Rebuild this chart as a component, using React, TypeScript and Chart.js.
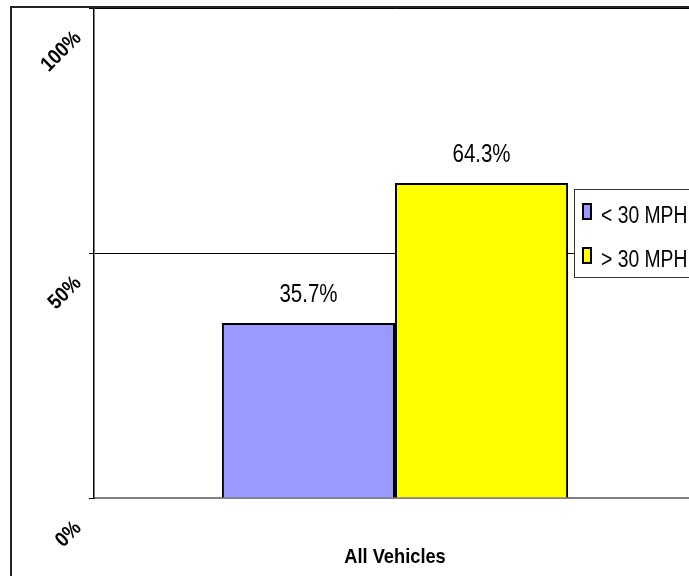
import React, { useEffect, useRef } from "react";
import { Chart, registerables } from "chart.js";

Chart.register(...registerables);

// Data
const categories = ["All Vehicles"];
const seriesNames = ["< 30 MPH", "> 30 MPH"];
const under30Share = [35.7];
const over30Share = [64.3];
const seriesColors = ["#9999FF", "#FFFF00"];
const yTickValues = [0, 50, 100];

const CANVAS_W = 710;
const CANVAS_H = 576;
const FONT = "'Liberation Sans', Arial, sans-serif";

// Draws text squeezed horizontally, like the narrow rendering of the original sheet
function squeezedText(
  ctx: CanvasRenderingContext2D,
  text: string,
  x: number,
  y: number,
  font: string,
  sx: number,
  align: CanvasTextAlign,
  baseline: CanvasTextBaseline,
  angle = 0
) {
  ctx.save();
  ctx.translate(x, y);
  if (angle) ctx.rotate(angle);
  ctx.scale(sx, 1);
  ctx.font = font;
  ctx.fillStyle = "#000";
  ctx.textAlign = align;
  ctx.textBaseline = baseline;
  ctx.fillText(text, 0, 0);
  ctx.restore();
}

const decorations = {
  id: "decorations",
  beforeDraw(chart: any) {
    const ctx = chart.ctx as CanvasRenderingContext2D;
    ctx.save();
    ctx.fillStyle = "#fff";
    ctx.fillRect(0, 0, chart.width, chart.height);
    ctx.restore();
  },
  afterDraw(chart: any) {
    const ctx = chart.ctx as CanvasRenderingContext2D;
    const yScale = chart.scales.y;
    const xScale = chart.scales.x;

    // outer frame of the chart
    ctx.save();
    ctx.strokeStyle = "#222";
    ctx.lineWidth = 2;
    ctx.beginPath();
    ctx.moveTo(11, chart.height);
    ctx.lineTo(11, 7);
    ctx.lineTo(chart.width, 7);
    ctx.stroke();
    ctx.restore();

    // rotated percentage labels on the value axis
    yTickValues.forEach((v) => {
      const py = yScale.getPixelForValue(v);
      squeezedText(ctx, `${v}%`, 78, py + 27, `bold 21px ${FONT}`, 0.88, "right", "middle", -Math.PI / 4);
    });

    // value labels above each bar
    chart.data.datasets.forEach((ds: any, i: number) => {
      const meta = chart.getDatasetMeta(i);
      meta.data.forEach((bar: any, j: number) => {
        const v = ds.data[j] as number;
        squeezedText(ctx, `${v.toFixed(1)}%`, bar.x, bar.y - 21, `25px ${FONT}`, 0.82, "center", "alphabetic");
      });
    });

    // category title under the axis
    categories.forEach((c, j) => {
      squeezedText(ctx, c, xScale.getPixelForValue(j), 563, `bold 21px ${FONT}`, 0.87, "center", "alphabetic");
    });

    // legend box
    const lx = 574;
    const ly = 189;
    const lh = 88;
    ctx.save();
    ctx.fillStyle = "#fff";
    ctx.fillRect(lx, ly, chart.width - lx, lh);
    ctx.strokeStyle = "#333";
    ctx.lineWidth = 1;
    ctx.strokeRect(lx + 0.5, ly + 0.5, chart.width, lh);
    ctx.restore();
    seriesNames.forEach((name, i) => {
      const rowY = ly + 15 + i * 44;
      ctx.save();
      ctx.fillStyle = seriesColors[i];
      ctx.fillRect(583, rowY, 8, 15);
      ctx.strokeStyle = "#000";
      ctx.lineWidth = 2;
      ctx.strokeRect(583, rowY, 8, 15);
      ctx.restore();
      squeezedText(ctx, name, 601, rowY + 19, `23px ${FONT}`, 0.84, "left", "alphabetic");
    });
  },
};

export default function App() {
  const canvasRef = useRef<HTMLCanvasElement | null>(null);

  useEffect(() => {
    if (!canvasRef.current) return;
    const chart = new Chart(canvasRef.current, {
      type: "bar",
      data: {
        labels: categories,
        datasets: [
          {
            label: seriesNames[0],
            data: under30Share,
            backgroundColor: seriesColors[0],
            borderColor: "#000",
            borderWidth: 2,
          },
          {
            label: seriesNames[1],
            data: over30Share,
            backgroundColor: seriesColors[1],
            borderColor: "#000",
            borderWidth: 2,
          },
        ],
      },
      options: {
        responsive: false,
        animation: false,
        devicePixelRatio: 1,
        layout: { padding: { left: 89, top: 8, right: CANVAS_W - 696, bottom: 78 } },
        datasets: { bar: { barPercentage: 1, categoryPercentage: 0.575 } },
        plugins: {
          legend: { display: false },
          tooltip: { enabled: false },
        },
        scales: {
          x: {
            ticks: { display: false },
            grid: { display: false, drawTicks: false },
            border: { display: true, color: "#808080", width: 2 },
          },
          y: {
            min: 0,
            max: 100,
            ticks: { display: false, stepSize: 50 },
            grid: {
              color: "#000",
              lineWidth: 1,
              drawTicks: true,
              tickLength: 5,
              tickColor: "#000",
            },
            border: { display: true, color: "#000", width: 1.5 },
          },
        },
      },
      plugins: [decorations],
    });
    return () => chart.destroy();
  }, []);

  return (
    <div
      style={{
        position: "absolute",
        left: 0,
        top: 0,
        width: 689,
        height: 576,
        overflow: "hidden",
        background: "#fff",
      }}
    >
      <canvas ref={canvasRef} width={CANVAS_W} height={CANVAS_H} style={{ display: "block" }} />
    </div>
  );
}
